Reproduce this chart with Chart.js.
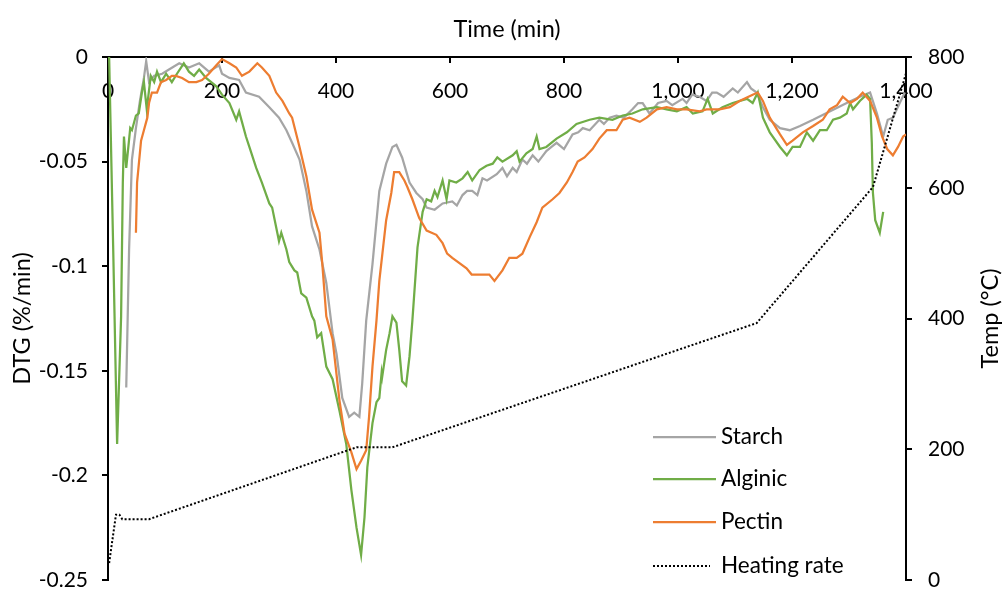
<!DOCTYPE html>
<html><head><meta charset="utf-8">
<script src="https://cdn.jsdelivr.net/npm/chart.js@4.4.1/dist/chart.umd.min.js"></script>
<style>html,body{margin:0;padding:0;background:#fff;overflow:hidden}</style>
</head><body>
<canvas id="c" width="1004" height="594"></canvas>
<script>
// ---- data (time in min, DTG in %/min, temperature in °C) ----
const starchTime = [32,37,42,49,56,63,67,72,81,95,107,125,142,160,177,195,200,213,230,242,265,283,300,313,323,336,348,358,371,383,394,401,411,423,432,441,446,453,464,476,488,499,506,516,529,541,552,559,573,587,604,612,622,630,639,648,657,665,682,692,700,710,717,727,735,745,755,769,778,787,800,815,825,833,845,862,870,880,892,905,920,930,938,950,965,980,990,1008,1015,1025,1038,1050,1060,1068,1080,1096,1105,1121,1128,1138,1149,1161,1179,1196,1214,1237,1266,1296,1319,1337,1349,1360,1368,1377,1389,1398];
const starchDTG = [-0.158,-0.092,-0.049,-0.034,-0.021,-0.010,-0.002,-0.012,-0.009,-0.008,-0.006,-0.003,-0.005,-0.003,-0.007,-0.004,-0.008,-0.010,-0.011,-0.017,-0.019,-0.024,-0.029,-0.035,-0.041,-0.049,-0.064,-0.081,-0.092,-0.108,-0.132,-0.142,-0.163,-0.172,-0.170,-0.172,-0.156,-0.126,-0.099,-0.064,-0.051,-0.043,-0.042,-0.048,-0.060,-0.065,-0.068,-0.072,-0.073,-0.070,-0.069,-0.071,-0.066,-0.064,-0.064,-0.066,-0.058,-0.059,-0.056,-0.053,-0.057,-0.053,-0.055,-0.049,-0.051,-0.047,-0.050,-0.045,-0.043,-0.041,-0.044,-0.037,-0.036,-0.034,-0.035,-0.030,-0.032,-0.029,-0.028,-0.029,-0.025,-0.022,-0.022,-0.027,-0.022,-0.021,-0.023,-0.020,-0.022,-0.018,-0.019,-0.021,-0.017,-0.017,-0.019,-0.015,-0.017,-0.012,-0.015,-0.017,-0.024,-0.030,-0.034,-0.035,-0.033,-0.030,-0.026,-0.022,-0.019,-0.017,-0.027,-0.038,-0.030,-0.029,-0.022,-0.017];

const alginicTime = [2,9,16,23,26,28,32,39,42,49,54,60,63,68,75,81,86,93,102,112,121,133,142,151,160,172,190,200,213,225,230,235,242,248,260,270,283,288,297,300,304,313,318,327,332,339,348,358,362,367,374,383,394,406,418,427,436,444,450,455,464,471,476,480,481,488,494,499,506,511,516,523,529,534,543,552,559,567,573,578,587,594,599,611,622,631,639,652,664,675,683,692,710,717,722,734,745,752,757,769,787,805,822,845,862,885,903,920,938,963,980,998,1015,1026,1043,1052,1061,1078,1096,1121,1131,1140,1149,1161,1179,1191,1201,1214,1226,1237,1249,1261,1272,1284,1296,1302,1307,1319,1331,1337,1340,1342,1346,1354,1360];
const alginicDTG = [0,-0.09,-0.185,-0.124,-0.060,-0.038,-0.053,-0.034,-0.035,-0.028,-0.027,-0.016,-0.012,-0.025,-0.009,-0.012,-0.007,-0.012,-0.008,-0.012,-0.008,-0.003,-0.007,-0.009,-0.006,-0.010,-0.014,-0.018,-0.022,-0.030,-0.026,-0.031,-0.038,-0.043,-0.053,-0.060,-0.070,-0.072,-0.084,-0.088,-0.084,-0.092,-0.098,-0.102,-0.103,-0.113,-0.115,-0.124,-0.126,-0.134,-0.132,-0.148,-0.154,-0.169,-0.185,-0.207,-0.225,-0.238,-0.220,-0.196,-0.175,-0.165,-0.163,-0.151,-0.153,-0.140,-0.132,-0.124,-0.127,-0.140,-0.155,-0.157,-0.143,-0.126,-0.091,-0.074,-0.068,-0.069,-0.064,-0.067,-0.059,-0.068,-0.059,-0.060,-0.058,-0.055,-0.059,-0.054,-0.052,-0.051,-0.048,-0.050,-0.047,-0.045,-0.050,-0.046,-0.044,-0.038,-0.044,-0.043,-0.039,-0.036,-0.032,-0.030,-0.029,-0.030,-0.028,-0.027,-0.025,-0.024,-0.025,-0.026,-0.024,-0.027,-0.026,-0.020,-0.027,-0.024,-0.022,-0.020,-0.022,-0.017,-0.029,-0.036,-0.043,-0.047,-0.043,-0.043,-0.036,-0.040,-0.035,-0.035,-0.030,-0.029,-0.027,-0.022,-0.025,-0.021,-0.018,-0.020,-0.041,-0.065,-0.078,-0.084,-0.074];

const pectinTime = [49,51,58,63,69,72,77,86,93,102,112,119,130,142,155,165,177,190,200,213,225,235,248,262,270,283,295,306,318,323,336,348,358,371,376,383,394,406,415,427,436,444,453,458,464,471,476,488,497,502,511,520,525,534,546,559,576,587,595,604,629,638,669,678,692,704,717,727,740,752,762,780,792,805,815,824,836,850,862,875,892,903,915,933,945,963,980,998,1015,1038,1050,1073,1091,1108,1131,1140,1149,1161,1179,1191,1201,1219,1237,1254,1266,1279,1289,1302,1314,1324,1337,1349,1358,1367,1377,1386,1395,1400];
const pectinDTG = [-0.084,-0.060,-0.040,-0.035,-0.029,-0.022,-0.017,-0.017,-0.012,-0.011,-0.009,-0.009,-0.010,-0.012,-0.012,-0.011,-0.008,-0.004,-0.001,-0.003,-0.005,-0.009,-0.007,-0.003,-0.005,-0.009,-0.017,-0.021,-0.027,-0.029,-0.043,-0.057,-0.073,-0.084,-0.099,-0.124,-0.135,-0.164,-0.180,-0.189,-0.197,-0.193,-0.188,-0.172,-0.148,-0.126,-0.107,-0.078,-0.065,-0.055,-0.055,-0.059,-0.062,-0.068,-0.077,-0.083,-0.085,-0.089,-0.094,-0.096,-0.101,-0.104,-0.104,-0.107,-0.102,-0.096,-0.096,-0.094,-0.086,-0.079,-0.072,-0.068,-0.065,-0.060,-0.055,-0.050,-0.048,-0.044,-0.039,-0.035,-0.035,-0.030,-0.029,-0.031,-0.029,-0.025,-0.024,-0.025,-0.025,-0.026,-0.025,-0.025,-0.024,-0.021,-0.018,-0.017,-0.021,-0.029,-0.037,-0.042,-0.040,-0.036,-0.033,-0.030,-0.025,-0.023,-0.019,-0.022,-0.020,-0.017,-0.021,-0.029,-0.038,-0.044,-0.047,-0.043,-0.038,-0.037];

const heatTime = [2,14,20,25,72,436,499,1138,1342,1400];
const heatTemp = [26,100,100,93,93,203,203,393,601,775];

const seriesNames = ['Starch','Alginic','Pectin','Heating rate'];
const seriesColors = ['#A5A5A5','#70AD47','#ED7D31','#000000'];
const timeTicks = {min:0, max:1400, step:200};
const dtgTicks = {min:-0.25, max:0, step:0.05};
const tempTicks = {min:0, max:800, step:200};
const xTitle = 'Time (min)', yTitle = 'DTG (%/min)', y2Title = 'Temp (°C)';

// ---- chart ----
const FAM = 'Lato';
const tickFont = {family: FAM, size: 21};
const titleFont = {family: FAM, size: 23.5};
const legendFont = {family: FAM, size: 22.5};
const pts = (xs, ys) => xs.map((x, i) => ({x: x, y: ys[i]}));

const legendAndTitle = {
  id: 'legendAndTitle',
  afterDraw(chart) {
    const ctx = chart.ctx;
    const ca = chart.chartArea;
    ctx.save();
    ctx.fillStyle = '#000';
    ctx.font = titleFont.size + 'px ' + FAM;
    ctx.textAlign = 'center';
    ctx.textBaseline = 'middle';
    ctx.translate(990, (ca.top + ca.bottom) / 2);
    ctx.rotate(-Math.PI / 2);
    ctx.fillText(y2Title, 0, 0);
    ctx.restore();

    ctx.save();
    const rows = [437, 479, 522, 566];
    chart.data.datasets.forEach((ds, i) => {
      const y = rows[i];
      ctx.beginPath();
      ctx.strokeStyle = ds.borderColor;
      ctx.lineWidth = ds.borderWidth;
      ctx.setLineDash(ds.borderDash || []);
      ctx.moveTo(653, y);
      ctx.lineTo(i === 3 ? 710 : 716, y);
      ctx.stroke();
      ctx.setLineDash([]);
      ctx.fillStyle = '#000';
      ctx.font = legendFont.size + 'px ' + FAM;
      ctx.textAlign = 'left';
      ctx.textBaseline = 'middle';
      ctx.fillText(ds.label, 721, y);
    });
    ctx.restore();
  }
};

const fmtDTG = v => { const r = Math.round(v * 100) / 100; return r === 0 ? '0' : String(r); };
const noPad = s => { s.paddingTop = 0; s.paddingBottom = 0; s.paddingLeft = 0; s.paddingRight = 0; };

new Chart(document.getElementById('c'), {
  type: 'line',
  data: {
    datasets: [
      {label: seriesNames[0], data: pts(starchTime, starchDTG), borderColor: seriesColors[0], borderWidth: 2.25, pointRadius: 0, yAxisID: 'y', order: 4},
      {label: seriesNames[1], data: pts(alginicTime, alginicDTG), borderColor: seriesColors[1], borderWidth: 2.25, pointRadius: 0, yAxisID: 'y', order: 3},
      {label: seriesNames[2], data: pts(pectinTime, pectinDTG), borderColor: seriesColors[2], borderWidth: 2.25, pointRadius: 0, yAxisID: 'y', order: 2},
      {label: seriesNames[3], data: pts(heatTime, heatTemp), borderColor: seriesColors[3], borderWidth: 2, borderDash: [2, 2], pointRadius: 0, yAxisID: 'y2', order: 1}
    ]
  },
  options: {
    responsive: false,
    animation: false,
    devicePixelRatio: 1,
    layout: {padding: {top: 0, left: 0, right: 0, bottom: 14}},
    elements: {line: {tension: 0, fill: false}},
    plugins: {legend: {display: false}, tooltip: {enabled: false}},
    scales: {
      x: {
        type: 'linear', position: 'top',
        min: timeTicks.min, max: timeTicks.max,
        ticks: {stepSize: timeTicks.step, mirror: true, padding: 22, font: tickFont, color: '#000', maxRotation: 0},
        grid: {drawOnChartArea: false, tickLength: -6, color: '#000', lineWidth: 2},
        border: {display: true, color: '#000', width: 2},
        title: {display: true, text: xTitle, font: titleFont, color: '#000', padding: {top: 15, bottom: 0}},
        afterFit(s) { s.height = 57; noPad(s); }
      },
      y: {
        type: 'linear', position: 'left',
        min: dtgTicks.min, max: dtgTicks.max,
        ticks: {stepSize: dtgTicks.step, padding: 14, font: tickFont, color: '#000', callback: fmtDTG},
        grid: {drawOnChartArea: false, tickLength: 6, color: '#000', lineWidth: 2},
        border: {display: true, color: '#000', width: 2},
        title: {display: true, text: yTitle, font: titleFont, color: '#000', padding: {top: 8, bottom: 0}},
        afterFit(s) { s.width = 108; noPad(s); }
      },
      y2: {
        type: 'linear', position: 'right',
        min: tempTicks.min, max: tempTicks.max,
        ticks: {stepSize: tempTicks.step, padding: 16, font: tickFont, color: '#000'},
        grid: {drawOnChartArea: false, tickLength: 6, color: '#000', lineWidth: 2},
        border: {display: true, color: '#000', width: 2},
        afterFit(s) { s.width = 98; noPad(s); }
      }
    }
  },
  plugins: [legendAndTitle]
});
</script>
</body></html>
